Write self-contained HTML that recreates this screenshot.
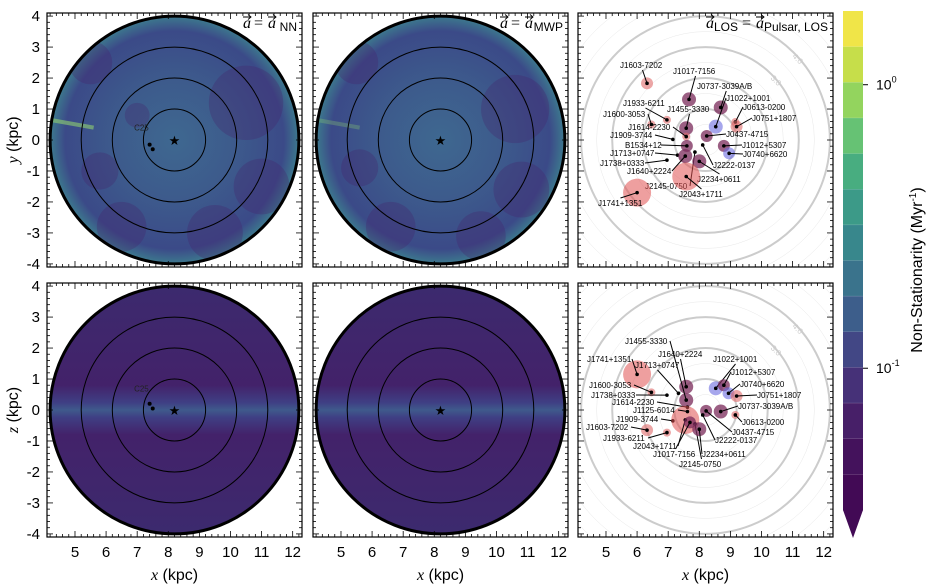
<!DOCTYPE html>
<html><head><meta charset="utf-8"><style>
body{margin:0;background:#fff}
svg{display:block;font-family:"Liberation Sans",sans-serif}
</style></head><body>
<svg id="c" width="937" height="585" viewBox="0 0 937 585" xmlns="http://www.w3.org/2000/svg">
<defs>
<radialGradient id="gTop" cx="50%" cy="50%" r="50%">
<stop offset="0" stop-color="#3e6890"/><stop offset="0.5" stop-color="#3d5a8c"/><stop offset="0.88" stop-color="#3b4a88"/><stop offset="1" stop-color="#3d7a8e"/></radialGradient>
<linearGradient id="gBot" x1="0" y1="0" x2="0" y2="1">
<stop offset="0" stop-color="#3c2a6e"/><stop offset="0.4" stop-color="#43226a"/><stop offset="0.47" stop-color="#3f3f84"/><stop offset="0.5" stop-color="#3f5a8c"/><stop offset="0.53" stop-color="#3f3f84"/><stop offset="0.6" stop-color="#43226a"/><stop offset="1" stop-color="#3c2a6e"/></linearGradient>
</defs>
</svg>
<script>
const NS="http://www.w3.org/2000/svg";
const svg=document.getElementById('c');
// ---- data ----
const xTicks=[5,6,7,8,9,10,11,12];
const yTicks=[4,3,2,1,0,-1,-2,-3,-4];
const ringRadii=[1,2,3];
const sunX=8.2, sunY=0;
const cbTickValues=[1,0.1];
const cbTickLabels=["10","10"];
const cbTickExps=["0","-1"];
const topNames=["J1603-7202","J1017-7156","J0737-3039A/B","J1022+1001","J0613-0200","J0751+1807","J1933-6211","J1600-3053","J1455-3330","J1614-2230","J1909-3744","B1534+12","J0437-4715","J2222-0137","J1012+5307","J0740+6620","J1713+0747","J1640+2224","J2145-0750","J1738+0333","J2234+0611","J2043+1711","J1741+1351"];
const topX=[6.32,7.67,8.69,8.53,9.16,9.2,6.96,6.46,7.58,7.58,7.15,7.6,8.24,8.11,8.79,8.96,7.3,7.55,7.86,6.96,8.0,7.58,6.0];
const topY=[1.83,1.31,1.05,0.43,0.58,0.43,0.65,0.5,0.38,0.11,0.02,-0.19,0.13,-0.16,-0.19,-0.43,-0.49,-0.52,-0.39,-0.65,-0.69,-1.18,-1.7];
const topKind=["r2","p3","p3","b3","r1","r2","r1","r1","p3","r1","d","p2","p2","d","p2","b2","d","p3","d","d","p3","R","R"];
const botNames=["J1741+1351","J1600-3053","J1738+0333","J1713+0747","J1640+2224","J1455-3330","J1614-2230","J1909-3744","J2043+1711","J1603-7202","J1933-6211","J2145-0750","J2234+0611","J1022+1001","J1012+5307","J0740+6620","J0751+1807","J0737-3039A/B","J0613-0200","J0437-4715","J2222-0137","J1125-6014","J1017-7156"];
const botX=[6.0,6.46,6.96,7.33,7.58,7.58,7.62,7.15,7.55,6.32,6.96,7.86,8.0,8.53,8.79,8.94,9.2,8.69,9.16,8.22,8.11,7.62,7.7];
const botY=[1.15,0.57,0.48,0.54,0.75,0.32,0.09,-0.35,-0.32,-0.65,-0.73,-0.45,-0.62,0.7,0.8,0.54,0.45,-0.05,-0.16,-0.03,-0.16,-0.05,-0.4];
const botKind=["R","r1","d","d","p3","p3","d","d","R","r2","r1","d","p3","b3","p2","b2","r2","p3","r1","p2","d","d","p2"];
// label anchor positions (pixels, annotation layout)
const topLab=[[620,68],[673,74],[697,89],[726,101],[743,110],[752,121],[623,106],[603,117],[667,112],[628,130],[610,138],[625,148],[726,137],[713,168],[742,148],[743,157],[610,156],[627,174],[645,189],[600,166],[697,182],[679,197],[598,206]];
const botLab=[[587,362],[589,388],[591,398],[635,368],[658,357],[625,344],[612,405],[616,422],[633,449],[586,430],[603,441],[679,467],[702,457],[713,362],[731,375],[740,387],[757,398],[738,409],[742,425],[732,435],[715,443],[633,413],[653,457]];
// ---- geometry ----
const colsL=[47,313,578], PW=255, rowsT=[13,283], PH=254;
const X0=4.1,X1=12.3,Y0=-4.1,Y1=4.1;
function sx(c,x){return colsL[c]+(x-X0)/(X1-X0)*PW;}
function sy(r,y){return rowsT[r]+(Y1-y)/(Y1-Y0)*PH;}
function el(t,a,p){const e=document.createElementNS(NS,t);for(const k in a)e.setAttribute(k,a[k]);(p||svg).appendChild(e);return e;}
const defs=svg.querySelector('defs');
function vec(g,x,y){const a=el('text',{x:x,y:y,"font-size":16,"font-style":"italic","font-family":"Liberation Serif, serif"},g);a.textContent='a';
  el('path',{d:`M${x} ${y-11} L${x+8} ${y-11} M${x+5} ${y-13.5} L${x+8} ${y-11} L${x+5} ${y-8.5}`,stroke:'#000',"stroke-width":0.9,fill:'none'},g);}
for(let r=0;r<2;r++)for(let c=0;c<3;c++){
  const g=el('g',{});
  
  
  const cx=sx(c,sunX), cy=sy(r,sunY), R4=sx(c,sunX+4)-cx, R4y=sy(r,-4)-cy;
  const cp=el('clipPath',{id:'cp'+r+c},defs);
  el('rect',{x:colsL[c],y:rowsT[r],width:PW,height:PH},cp);
  const dcp=el('clipPath',{id:'dc'+r+c},defs);
  el('ellipse',{cx:cx,cy:cy,rx:R4,ry:R4y},dcp);
  if(c<2){
    const disk=el('ellipse',{cx:cx,cy:cy,rx:R4,ry:R4y,fill:r?'url(#gBot)':'url(#gTop)'},g);
    
    
    const dg=el('g',{"clip-path":`url(#dc${r}${c})`},g);
    if(r==0){
      const blobs=c==0?[[5.5,2.5,0.7],[10.5,1.2,1.2],[11,-1.5,0.9],[6.5,-2.8,0.8],[7,0.8,0.4],[9.5,-3,0.9],[5.8,-1,0.6]]:[[5.5,2.5,0.7],[10.6,1,1.1],[10.8,-1.6,0.9],[6.6,-2.8,0.8],[9.5,-3.1,0.8],[5.6,-0.9,0.6]];
      blobs.forEach(b=>el('circle',{cx:sx(c,b[0]),cy:sy(r,b[1]),r:b[2]*31,fill:'#45206a',opacity:0.3},dg));
      el('path',{d:`M${sx(c,4.2)} ${sy(r,0.65)} L${sx(c,5.6)} ${sy(r,0.4)}`,stroke:'#8fd070',"stroke-width":4,opacity:c==0?0.6:0.3},dg);
    }
    ringRadii.forEach(rr=>{const e=el('ellipse',{cx:cx,cy:cy,rx:R4*rr/4,ry:R4y*rr/4,fill:'none',stroke:'#000',"stroke-width":1},g);
      });
    const o=el('ellipse',{cx:cx,cy:cy,rx:R4,ry:R4y,fill:'none',stroke:'#000',"stroke-width":3},g);
    
    const s=el('text',{x:cx,y:cy+5,"text-anchor":"middle","font-size":13},g);s.textContent='★';
    
    if(c==0){el('circle',{cx:sx(c,7.4),cy:sy(r,r?0.2:-0.15),r:2,fill:'#000'},g);el('circle',{cx:sx(c,7.5),cy:sy(r,r?0.05:-0.3),r:2,fill:'#000'},g);
      const t=el('text',{x:sx(c,6.9),y:sy(r,r?0.6:0.3),"font-size":8,fill:'#222'},g);t.textContent='C25';}
  } else {
    const gg=el('g',{"clip-path":`url(#cp${r}${c})`},g);
    for(let k=0.5;k<=6;k+=0.5){el('ellipse',{cx:cx,cy:cy,rx:R4*k/4,ry:R4y*k/4,fill:'none',stroke:'#ccc',"stroke-width":(k%1==0&&k<=4)?2:0.4,opacity:(k%1==0&&k<=4)?1:0.6},gg);}
    [[3,'3.0'],[4,'4.0']].forEach(q=>{const t=el('text',{x:cx+R4*q[0]/4*0.7+2,y:cy-R4y*q[0]/4*0.7+3,"font-size":8,fill:'#ccc',transform:`rotate(45 ${cx+R4*q[0]/4*0.7} ${cy-R4y*q[0]/4*0.7})`},g);t.textContent=q[1];});
    const N=r?botNames:topNames,XX=r?botX:topX,YY=r?botY:topY,K=r?botKind:topKind,LB=r?botLab:topLab;
    const col={r:'#e06a6a',p:'#7a2a5a',b:'#6a6ae0',R:'#e06060',d:'#000'};
    const rad={1:4,2:6,3:7};
    for(let i=0;i<N.length;i++){
      const px=sx(c,XX[i]),py=sy(r,YY[i]),k=K[i];
      const pg=el('g',{},g);
      
      
      if(k=='R'){el('circle',{cx:px,cy:py,r:14,fill:'#e05050',opacity:0.55},pg);}
      else if(k!='d'){el('circle',{cx:px,cy:py,r:rad[k[1]],fill:col[k[0]],opacity:k[0]=='p'?0.75:0.6},pg);}
      el('circle',{cx:px,cy:py,r:1.8,fill:'#000'},pg);
      const lx=LB[i][0],ly=LB[i][1];const tw=N[i].length*4.5;
      const ax= lx+tw<px? lx+tw : (lx>px? lx : lx+tw/2), ay= lx+tw<px||lx>px? ly-3 : (ly<py? ly+2: ly-8);
      el('line',{x1:ax,y1:ay,x2:px,y2:py,stroke:'#000',"stroke-width":1},pg);
      const t=el('text',{x:lx,y:ly,"font-size":8,fill:'#000'},pg);t.textContent=N[i];
    }
  }
  const fr=el('rect',{x:colsL[c],y:rowsT[r],width:PW,height:PH,fill:'none',stroke:'#000',"stroke-width":1.2},g);
  
  for(let v=4.2;v<=12.21;v+=0.2){const x=sx(c,v),maj=Math.abs(v-Math.round(v))<0.01,L=maj?6:3;
    el('line',{x1:x,y1:rowsT[r]+PH,x2:x,y2:rowsT[r]+PH-L,stroke:'#000',"stroke-width":0.8},g);
    el('line',{x1:x,y1:rowsT[r],x2:x,y2:rowsT[r]+L,stroke:'#000',"stroke-width":0.8},g);}
  for(let v=-4;v<=4.01;v+=0.2){const y=sy(r,v),maj=Math.abs(v-Math.round(v))<0.01,L=maj?6:3;
    el('line',{x1:colsL[c],y1:y,x2:colsL[c]+L,y2:y,stroke:'#000',"stroke-width":0.8},g);
    el('line',{x1:colsL[c]+PW,y1:y,x2:colsL[c]+PW-L,y2:y,stroke:'#000',"stroke-width":0.8},g);}
  if(r==1) xTicks.forEach(v=>{const t=el('text',{x:sx(c,v),y:557,"text-anchor":"middle","font-size":15},g);t.textContent=v;
    });
  if(c==0) yTicks.forEach(v=>{const t=el('text',{x:40,y:sy(r,v)+5,"text-anchor":"end","font-size":15},g);t.textContent=v;
    });
  if(r==0){
    const tg=el('g',{},g);
    
    const R=colsL[c]+PW-5, y=28;
    if(c<2){
      const sub=el('text',{x:R,y:y+3,"text-anchor":"end","font-size":12},tg);sub.textContent=c==0?'NN':'MWP';
      const w=c==0?21:30;
      vec(tg,R-w-8,y);
      const eq=el('text',{x:R-w-22,y:y,"font-size":16,"font-family":"Liberation Serif, serif"},tg);eq.textContent='=';
      vec(tg,R-w-33,y);
    } else {
      const sub=el('text',{x:R,y:y+3,"text-anchor":"end","font-size":12},tg);sub.textContent='Pulsar, LOS';
      vec(tg,R-72,y);
      const eq=el('text',{x:R-86,y:y,"font-size":16,"font-family":"Liberation Serif, serif"},tg);eq.textContent='=';
      const s2=el('text',{x:R-90,y:y+3,"text-anchor":"end","font-size":12},tg);s2.textContent='LOS';
      vec(tg,R-122,y);
    }
  }
  if(r==1){const t=el('text',{x:colsL[c]+PW/2,y:580,"text-anchor":"middle","font-size":16},g);
    t.innerHTML='<tspan font-family="Liberation Serif" font-style="italic">x</tspan> (kpc)';
    }
}
[['y',140],['z',410]].forEach(q=>{const t=el('text',{x:18,y:q[1],"text-anchor":"middle","font-size":16,transform:`rotate(-90 18 ${q[1]})`});
  t.innerHTML=`<tspan font-family="Liberation Serif" font-style="italic">${q[0]}</tspan> (kpc)`;
  });
// colorbar
const cbL=843,cbW=20,cbT=11,cbB=510,tip=538;
const vir=['#f0e548','#c6de4a','#93d45e','#66c274','#48ad80','#3c9a88','#38878c','#3a738c','#3d5e8b','#424785','#463178','#471f68','#44125c','#420a55'];
const cb=el('g',{});

const bh=(cbB-cbT)/14;
for(let i=0;i<14;i++){el('rect',{x:cbL,y:cbT+i*bh,width:cbW,height:bh+0.5,fill:vir[i]},cb);
  if(i>0)el('line',{x1:cbL,x2:cbL+cbW,y1:cbT+i*bh,y2:cbT+i*bh,stroke:'#fff',"stroke-width":0.3,opacity:0.5},cb);}
el('path',{d:`M${cbL} ${cbB} L${cbL+cbW} ${cbB} L${cbL+cbW/2} ${tip} Z`,fill:'#420a55'},cb);
function cbY(v){const top=0.26,bot=-1.5;return cbT+(top-Math.log10(v))/(top-bot)*(cbB-cbT);}
cbTickValues.forEach((v,i)=>{const y=cbY(v);el('line',{x1:cbL+cbW,x2:cbL+cbW+5,y1:y,y2:y,stroke:'#000'},cb);
  const t=el('text',{x:cbL+cbW+13,y:y+5,"font-size":14},cb);t.innerHTML=cbTickLabels[i]+`<tspan font-size="9" dy="-7">${cbTickExps[i]}</tspan>`;
  });
const cbt=el('text',{x:922,y:270,"text-anchor":"middle","font-size":16,transform:'rotate(-90 922 270)'},cb);
cbt.innerHTML='Non-Stationarity (Myr<tspan font-size="10" dy="-6">-1</tspan><tspan dy="6">)</tspan>';

</script>
</body></html>
